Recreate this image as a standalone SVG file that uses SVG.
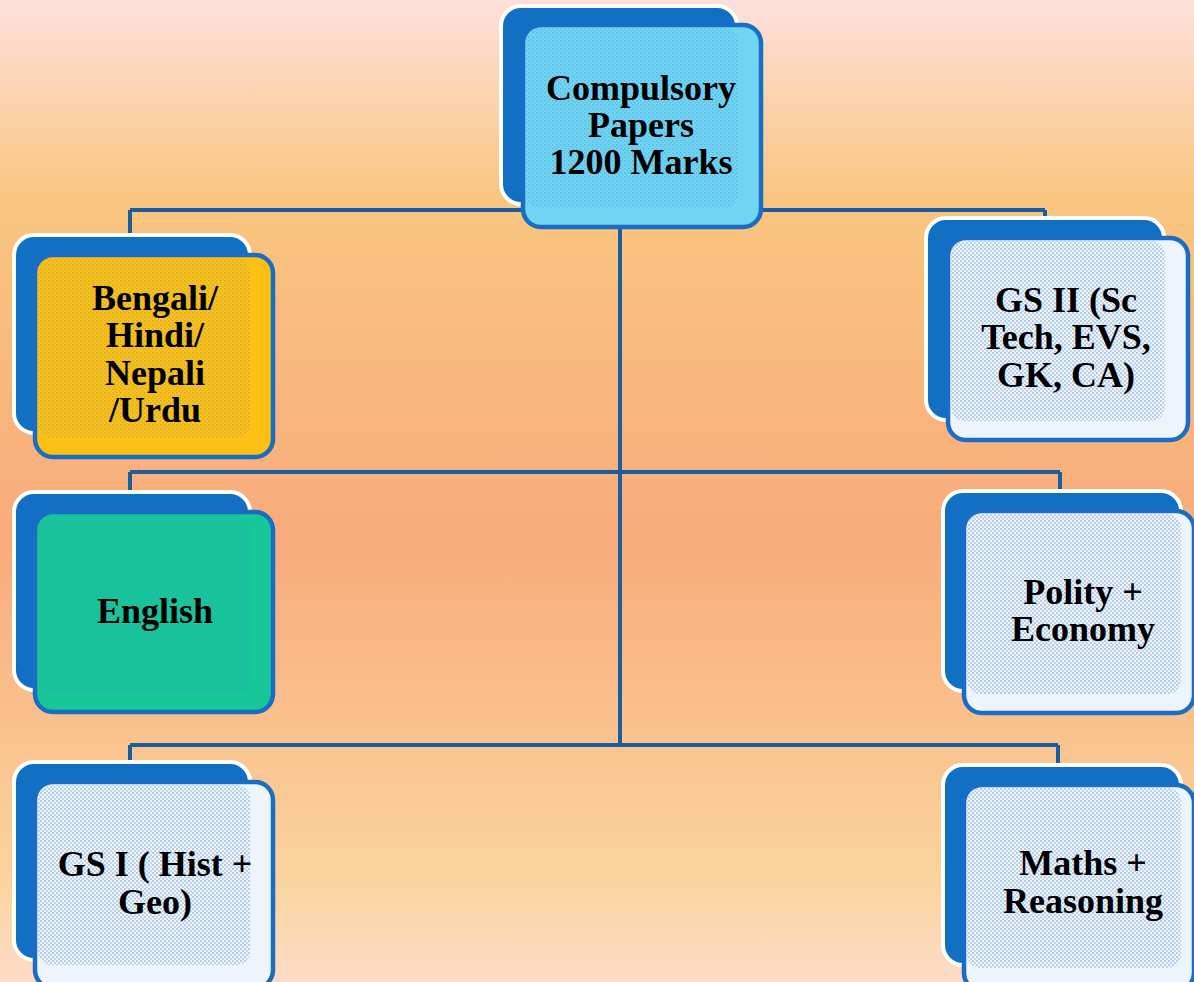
<svg xmlns="http://www.w3.org/2000/svg" width="1194" height="982" viewBox="0 0 1194 982">
<defs>
<linearGradient id="bg" x1="0" y1="0" x2="0" y2="1">
<stop offset="0" stop-color="#fde0dc"/>
<stop offset="0.2" stop-color="#f9c680"/>
<stop offset="0.55" stop-color="#f8ab7b"/>
<stop offset="0.9" stop-color="#fad49e"/>
<stop offset="1" stop-color="#fddcc8"/>
</linearGradient>
<pattern id="dots" width="4" height="4" patternUnits="userSpaceOnUse">
<rect x="0" y="0" width="2" height="2" fill="#8fb3de" opacity="0.6"/>
<rect x="2" y="2" width="2" height="2" fill="#8fb3de" opacity="0.5"/>
</pattern>
<pattern id="dotsDark" width="4" height="4" patternUnits="userSpaceOnUse">
<rect x="0" y="0" width="1.5" height="1.5" fill="#3a7fc0" opacity="0.35"/>
<rect x="2" y="2" width="1.5" height="1.5" fill="#3a7fc0" opacity="0.25"/>
</pattern>
</defs>
<style>
.back{fill:#1170c4;stroke:#ffffff;stroke-width:4}
.front{stroke:#1a6dc4;stroke-width:4.5}
.pale{fill:#eef4fb}
.inner{fill:url(#dots)}
.innerD{fill:url(#dotsDark)}
.conn{stroke:#1b5e9e;stroke-width:4;fill:none}
text{font-family:"Liberation Serif","Times New Roman",serif;font-weight:bold;font-size:36px;fill:#000;text-anchor:middle}
</style>
<rect x="0" y="0" width="1194" height="982" fill="url(#bg)"/>
<g id="connectors">
<path class="conn" d="M620 226 V745"/>
<path class="conn" d="M130 210 H1045 M130 210 V237 M1045 210 V220"/>
<path class="conn" d="M130 472 H1060 M130 472 V494 M1060 472 V493"/>
<path class="conn" d="M130 745 H1058 M130 745 V764 M1058 745 V767"/>
</g>
<g id="root">
<rect class="back" x="501" y="6" width="236" height="198" rx="20"/>
<rect class="front" x="523" y="25" width="238" height="202" rx="18" fill="#6fd5f3"/>
<rect class="innerD" x="526" y="28" width="212" height="180" rx="14"/>
<text x="641" y="100">Compulsory</text>
<text x="641" y="137">Papers</text>
<text x="641" y="174">1200 Marks</text>
</g>
<g id="bengali">
<rect class="back" x="14" y="235" width="236" height="198" rx="20"/>
<rect class="front" x="35" y="255" width="238" height="202" rx="18" fill="#fcc114"/>
<rect class="innerD" x="38" y="258" width="212" height="180" rx="14" opacity="0.8"/>
<text x="155" y="310">Bengali/</text>
<text x="155" y="347">Hindi/</text>
<text x="155" y="385">Nepali</text>
<text x="155" y="422">/Urdu</text>
</g>
<g id="english">
<rect class="back" x="14" y="492" width="236" height="198" rx="20"/>
<rect class="front" x="35" y="512" width="238" height="200" rx="18" fill="#17c79a"/>
<rect class="innerD" x="38" y="515" width="212" height="178" rx="14" opacity="0.8"/>
<text x="155" y="623">English</text>
</g>
<g id="gs1">
<rect class="back" x="14" y="762" width="236" height="198" rx="20"/>
<rect class="front pale" x="35" y="782" width="238" height="206" rx="18"/>
<rect class="inner" x="38" y="785" width="212" height="180" rx="14"/>
<text x="155" y="876">GS I ( Hist +</text>
<text x="155" y="914">Geo)</text>
</g>
<g id="gs2">
<rect class="back" x="926" y="218" width="238" height="202" rx="20"/>
<rect class="front pale" x="948" y="238" width="240" height="202" rx="18"/>
<rect class="inner" x="951" y="241" width="214" height="180" rx="14"/>
<text x="1066" y="312">GS II (Sc</text>
<text x="1066" y="349">Tech, EVS,</text>
<text x="1066" y="387">GK, CA)</text>
</g>
<g id="polity">
<rect class="back" x="943" y="491" width="238" height="200" rx="20"/>
<rect class="front pale" x="964" y="511" width="230" height="202" rx="18"/>
<rect class="inner" x="967" y="514" width="214" height="180" rx="14"/>
<text x="1083" y="604">Polity +</text>
<text x="1083" y="641">Economy</text>
</g>
<g id="maths">
<rect class="back" x="943" y="765" width="238" height="200" rx="20"/>
<rect class="front pale" x="964" y="785" width="230" height="206" rx="18"/>
<rect class="inner" x="967" y="788" width="214" height="180" rx="14"/>
<text x="1083" y="875">Maths +</text>
<text x="1083" y="913">Reasoning</text>
</g>
</svg>
